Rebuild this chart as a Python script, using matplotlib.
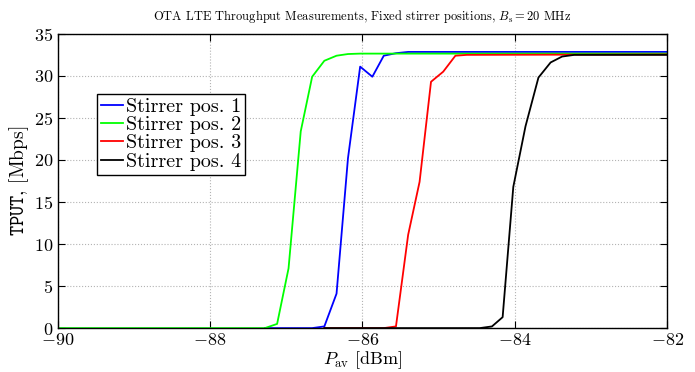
import matplotlib
matplotlib.use('Agg')
import matplotlib.pyplot as plt

plt.rcParams['font.family'] = 'serif'
plt.rcParams['font.serif'] = ['cmr10']
plt.rcParams['mathtext.fontset'] = 'cm'
plt.rcParams['axes.formatter.use_mathtext'] = True

# stirrer pos. 1 .. 4
x1 = [-87.28, -86.66, -86.50, -86.34, -86.19, -86.03, -85.87, -85.72, -85.56, -85.40, -82.0]
y1 = [0.0, 0.0, 0.2, 4.1, 20.2, 31.1, 29.9, 32.4, 32.7, 32.85, 32.85]
x2 = [-90.0, -87.28, -87.12, -86.97, -86.81, -86.66, -86.50, -86.34, -86.19, -86.03, -82.0]
y2 = [0.0, 0.0, 0.5, 7.1, 23.4, 29.9, 31.8, 32.4, 32.6, 32.65, 32.65]
x3 = [-86.50, -85.72, -85.56, -85.40, -85.25, -85.10, -84.94, -84.78, -84.63, -82.0]
y3 = [0.0, 0.0, 0.2, 11.1, 17.4, 29.3, 30.5, 32.4, 32.5, 32.55]
x4 = [-86.50, -84.46, -84.30, -84.16, -84.02, -83.86, -83.69, -83.53, -83.38, -83.22, -82.0]
y4 = [0.0, 0.0, 0.2, 1.3, 16.8, 24.0, 29.8, 31.6, 32.3, 32.5, 32.5]

labels = ['Stirrer pos. 1', 'Stirrer pos. 2', 'Stirrer pos. 3', 'Stirrer pos. 4']

fig = plt.figure(figsize=(6.95, 3.72), dpi=100)
ax = fig.add_axes([0.083, 0.118, 0.877, 0.791])

ax.plot(x1, y1, color=(0, 0, 1), lw=1.3, label=labels[0])
ax.plot(x2, y2, color=(0, 1, 0), lw=1.3, label=labels[1])
ax.plot(x3, y3, color=(1, 0, 0), lw=1.3, label=labels[2])
ax.plot(x4, y4, color='k', lw=1.3, label=labels[3])

ax.set_xlim(-90, -82)
ax.set_ylim(0, 35)
ax.set_xticks([-90, -88, -86, -84, -82])
ax.set_yticks(range(0, 36, 5))
ax.grid(True, linestyle=':', color='0.7', lw=0.8)
ax.tick_params(direction='in', top=True, right=True, length=5, labelsize=13, pad=3)
for s in ax.spines.values():
    s.set_linewidth(1.0)
    s.set_zorder(5)

ax.set_title(r'OTA LTE Throughput Measurements, Fixed stirrer positions, $B_{\rm s}=20$ MHz',
             fontsize=9, pad=10)
ax.set_xlabel(r'$P_{\rm av}$ [dBm]', fontsize=13, labelpad=1)
ax.set_ylabel(r'$\mathtt{TPUT}$, [Mbps]', fontsize=14, labelpad=2)

leg = ax.legend(loc='upper left', bbox_to_anchor=(0.064, 0.795), fontsize=14.5,
                frameon=True, fancybox=False, edgecolor='k', framealpha=1,
                handlelength=1.1, handletextpad=0.15, labelspacing=0.0,
                borderpad=0.2, borderaxespad=0)
leg.get_frame().set_linewidth(1.0)

fig.savefig('out.png', dpi=100)
